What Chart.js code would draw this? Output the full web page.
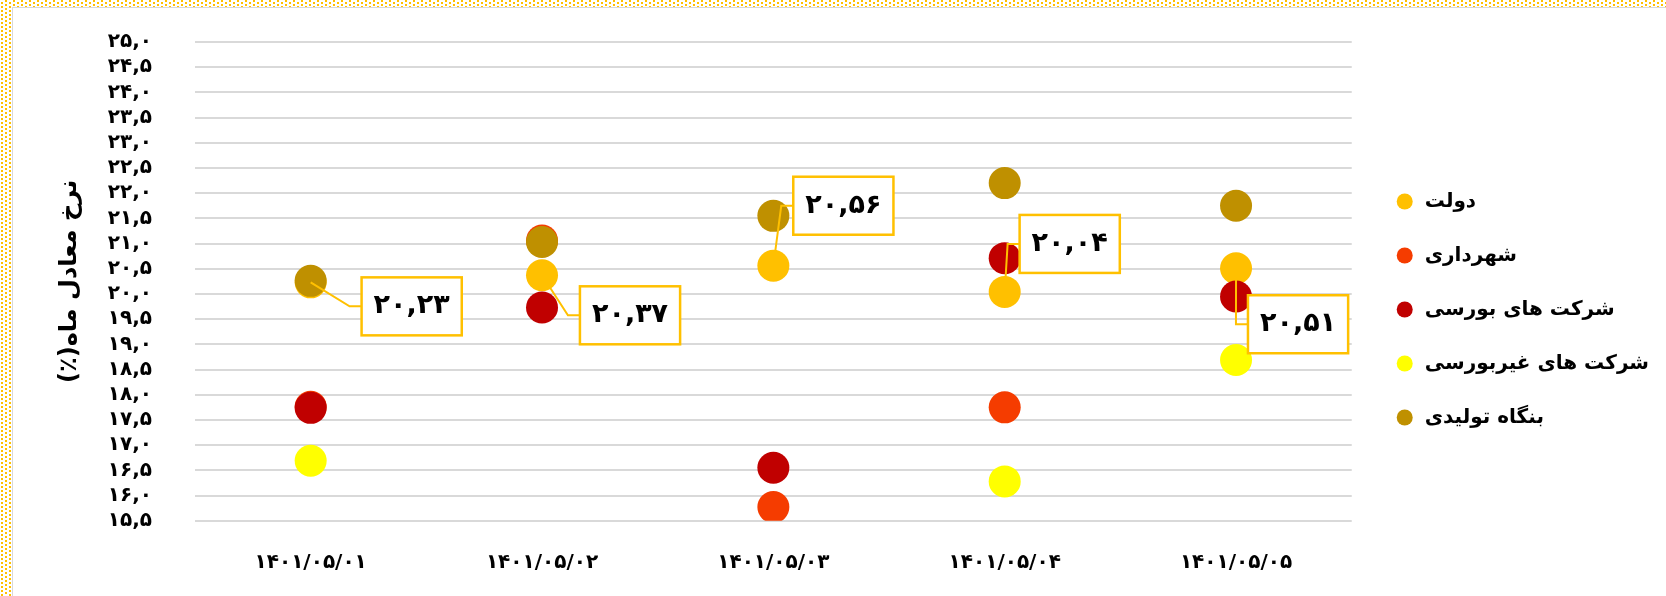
<!DOCTYPE html>
<html>
<head>
<meta charset="utf-8">
<script src="https://cdn.jsdelivr.net/npm/chart.js@4"></script>
<style>
  body { margin: 0; }
  #wrap {
    position: relative; width: 1666px; height: 596px;
    background: #fff url("data:image/svg+xml,%3Csvg xmlns='http://www.w3.org/2000/svg' width='8' height='4'%3E%3Crect x='1' y='2' width='2' height='2' fill='%23FFC000'/%3E%3Crect x='5' y='0' width='2' height='2' fill='%23FFC000'/%3E%3C/svg%3E");
  }
  #inner {
    position: absolute; left: 12px; top: 7px; right: 0; bottom: 0;
    background: #fff; border-left: 1px solid #d9d9d9; border-top: 1px solid #d9d9d9;
  }
  canvas { position: absolute; left: 0; top: 0; }
</style>
</head>
<body>
<div id="wrap">
  <div id="inner"></div>
  <canvas id="chart" width="1666" height="596"></canvas>
</div>
<script>
// دسته ها (تاریخ)
const categories = ['۱۴۰۱/۰۵/۰۱', '۱۴۰۱/۰۵/۰۲', '۱۴۰۱/۰۵/۰۳', '۱۴۰۱/۰۵/۰۴', '۱۴۰۱/۰۵/۰۵'];

// نرخ معادل ماه برای هر ناشر
const dowlat      = [20.23, 20.37, 20.56, 20.04, 20.51];
const shahrdari   = [17.76, 21.06, 15.77, 17.75, null];
const bourse      = [17.74, 19.73, 16.55, 20.71, 19.95];
const gheirBourse = [16.69, null, null, 16.28, 18.69];
const bongah      = [20.26, 21.03, 21.55, 22.20, 21.75];

const yTickLabels = ['۱۵,۵', '۱۶,۰', '۱۶,۵', '۱۷,۰', '۱۷,۵', '۱۸,۰', '۱۸,۵', '۱۹,۰', '۱۹,۵', '۲۰,۰',
                     '۲۰,۵', '۲۱,۰', '۲۱,۵', '۲۲,۰', '۲۲,۵', '۲۳,۰', '۲۳,۵', '۲۴,۰', '۲۴,۵', '۲۵,۰'];

const faDigits = '۰۱۲۳۴۵۶۷۸۹';
const toFa = s => s.replace(/[0-9]/g, d => faDigits[d]).replace('.', ',');

const FONT = '"DejaVu Sans", sans-serif';

// offset of each callout box centre from its point
const calloutOffsets = [[101, 24], [88, 40], [70, -60], [65, -48], [62, 56]];

const callouts = {
  id: 'callouts',
  afterDatasetsDraw(chart) {
    const ctx = chart.ctx;
    const meta = chart.getDatasetMeta(0);
    ctx.save();
    ctx.font = 'bold 27px ' + FONT;
    meta.data.forEach((pt, i) => {
      if (dowlat[i] == null) return;
      const text = toFa(dowlat[i].toFixed(2));
      const w = ctx.measureText(text).width + 24, h = 58;
      const cx = pt.x + calloutOffsets[i][0], cy = pt.y + calloutOffsets[i][1];
      const bx = cx - w / 2;
      ctx.strokeStyle = '#FFC000';
      ctx.lineWidth = 2;
      ctx.beginPath();
      ctx.moveTo(pt.x, pt.y);
      ctx.lineTo(bx - 12, cy);
      ctx.lineTo(bx, cy);
      ctx.stroke();
      ctx.fillStyle = '#fff';
      ctx.fillRect(bx, cy - h / 2, w, h);
      ctx.lineWidth = 2.5;
      ctx.strokeRect(bx, cy - h / 2, w, h);
      ctx.fillStyle = '#000';
      ctx.textAlign = 'center';
      ctx.textBaseline = 'middle';
      ctx.fillText(text, cx, cy);
    });
    ctx.restore();
  }
};

const legendNudge = {
  id: 'legendNudge',
  afterLayout(chart) {
    const l = chart.legend;
    const dx = chart.chartArea.right + 9 - l.left;
    l.left += dx; l.right += dx;
    const h = l.bottom - l.top;
    l.top = (619 - h) / 2;
    l.bottom = l.top + h;
  }
};

function ds(label, data, color, order) {
  return {
    label, data, order,
    backgroundColor: color, borderColor: color,
    pointBackgroundColor: color, pointBorderColor: color,
    pointRadius: 16, pointHoverRadius: 16, pointBorderWidth: 0,
    showLine: false
  };
}

Chart.defaults.font.family = FONT;
Chart.defaults.color = '#000';

new Chart(document.getElementById('chart'), {
  type: 'line',
  data: {
    labels: categories,
    datasets: [
      ds('دولت', dowlat, '#FFC000', 5),
      ds('شهرداری', shahrdari, '#F53C00', 4),
      ds('شرکت های بورسی', bourse, '#C00000', 3),
      ds('شرکت های غیربورسی', gheirBourse, '#FFFF00', 2),
      ds('بنگاه تولیدی', bongah, '#BF9000', 1)
    ]
  },
  options: {
    responsive: false,
    animation: false,
    layout: { padding: { left: 13, top: 42, right: 16, bottom: 0 } },
    plugins: {
      tooltip: { enabled: false },
      legend: {
        position: 'right',
        labels: {
          usePointStyle: true,
          pointStyle: 'circle',
          boxHeight: 11.3,
          padding: 34,
          font: { size: 20, weight: 'bold' },
          sort: (a, b) => a.datasetIndex - b.datasetIndex
        }
      }
    },
    scales: {
      x: {
        offset: true,
        grid: { display: false, drawTicks: false },
        border: { display: false },
        ticks: { padding: 30, font: { size: 20, weight: 'bold' } },
        afterFit: s => { s.height = 75.3; }
      },
      y: {
        min: 15.5,
        max: 25,
        grid: { color: '#D9D9D9', lineWidth: 2, drawTicks: false },
        border: { display: false },
        ticks: {
          stepSize: 0.5,
          autoSkip: false,
          padding: 43,
          font: { size: 20, weight: 'bold' },
          callback: (v, i) => yTickLabels[i]
        },
        title: {
          display: true,
          text: '\u200Fنرخ معادل ماه(٪)\u200F',
          font: { size: 24, weight: 'bold' },
          padding: { top: 42, bottom: 0 }
        },
        afterFit: s => {
          s.width = 182;
          s.paddingTop = 0;
          s.paddingBottom = 0;
        }
      }
    }
  },
  plugins: [callouts, legendNudge]
});
</script>
</body>
</html>
